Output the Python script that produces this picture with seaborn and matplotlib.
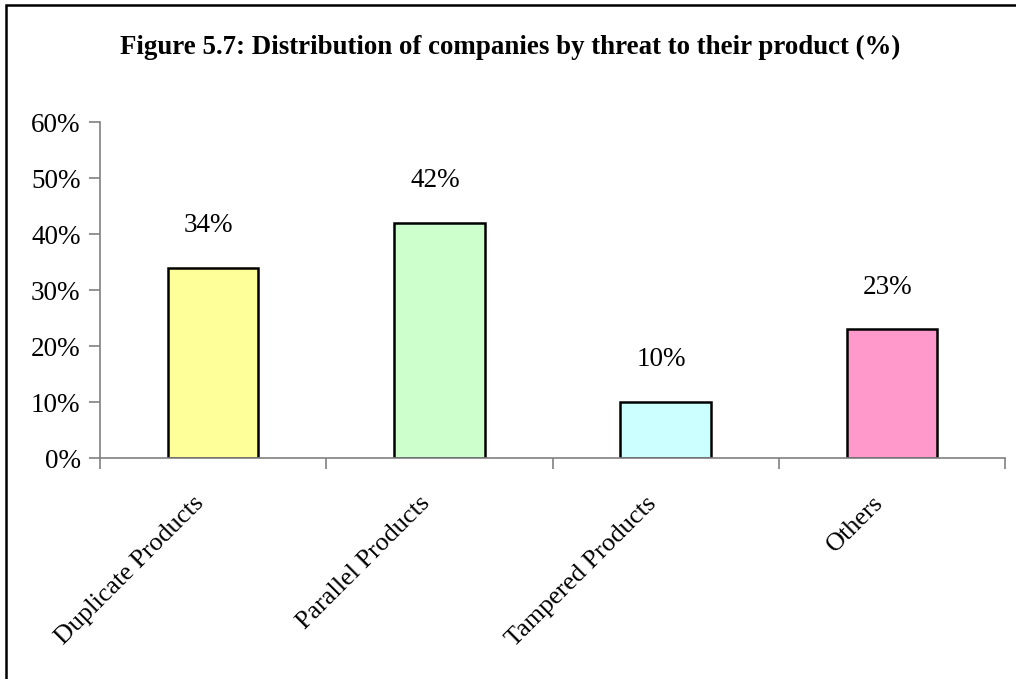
import matplotlib
matplotlib.use("Agg")
import matplotlib.pyplot as plt
import matplotlib.transforms as mtransforms
import seaborn as sns
import pandas as pd
from matplotlib.patches import Rectangle
from matplotlib.ticker import FixedLocator, PercentFormatter

categories = ["Duplicate Products", "Parallel Products", "Tampered Products", "Others"]
shares = [34, 42, 10, 23]
bar_colors = ["#FFFF99", "#CCFFCC", "#CCFFFF", "#FF99CC"]
y_ticks = [0, 10, 20, 30, 40, 50, 60]

sns.set_theme(style="white")
plt.rcParams["font.family"] = ["Liberation Serif", "DejaVu Serif"]
plt.rcParams["text.color"] = "black"
plt.rcParams["xtick.labelcolor"] = "black"
plt.rcParams["ytick.labelcolor"] = "black"

df = pd.DataFrame({"category": categories, "share": shares})

fig = plt.figure(figsize=(10.16, 6.79), dpi=100)
W, H = 1016, 679
ax = fig.add_axes([100 / W, 1 - 458 / H, (1005 - 100) / W, (458 - 122) / H])

sns.barplot(data=df, x="category", y="share", hue="category", palette=bar_colors,
            saturation=1, legend=False, width=0.40, edgecolor="black",
            linewidth=1.8, ax=ax, order=categories, hue_order=categories)

ax.set_xlim(-0.5, len(categories) - 0.5)
ax.set_ylim(0, 60)
ax.set_yticks(y_ticks)
ax.yaxis.set_major_formatter(PercentFormatter(decimals=0))
ax.tick_params(axis="y", which="major", length=8, width=1.2, color="#808080",
               labelsize=19.5, pad=6, direction="out", left=True, labelcolor="black")

# category labels under the bars, tick marks on the category boundaries
ax.set_xticks(range(len(categories)))
ax.set_xticklabels(categories, rotation=45, ha="right", rotation_mode="anchor",
                   fontsize=18.8, color="black")
ax.tick_params(axis="x", which="major", length=0, pad=26)
label_shift = mtransforms.ScaledTranslation(-20 / 100, 2 / 100, fig.dpi_scale_trans)
for lbl in ax.get_xticklabels():
    lbl.set_transform(lbl.get_transform() + label_shift)
ax.xaxis.set_minor_locator(FixedLocator([i + 0.5 for i in range(-1, len(categories))]))
ax.tick_params(axis="x", which="minor", length=8, width=1.2, color="#808080",
               direction="out", bottom=True)

for side in ["top", "right"]:
    ax.spines[side].set_visible(False)
for side in ["left", "bottom"]:
    ax.spines[side].set_color("#808080")
    ax.spines[side].set_linewidth(1.2)

ax.set_xlabel("")
ax.set_ylabel("")
ax.grid(False)

for i, v in enumerate(shares):
    ax.text(i - 0.02, v + 7.5, f"{v}%", ha="center", va="center", fontsize=19.5,
            color="black")

fig.text(510 / W, 1 - 47 / H,
         "Figure 5.7: Distribution of companies by threat to their product (%)",
         ha="center", va="center", fontsize=19.4, fontweight="bold", color="black")

# outer frame around the chart area
fig.patches.append(Rectangle((6 / W, -0.1), 1.2, (1 - 5 / H) + 0.1, transform=fig.transFigure,
                             fill=False, edgecolor="black", linewidth=1.8))

fig.savefig("out.png", dpi=100)
